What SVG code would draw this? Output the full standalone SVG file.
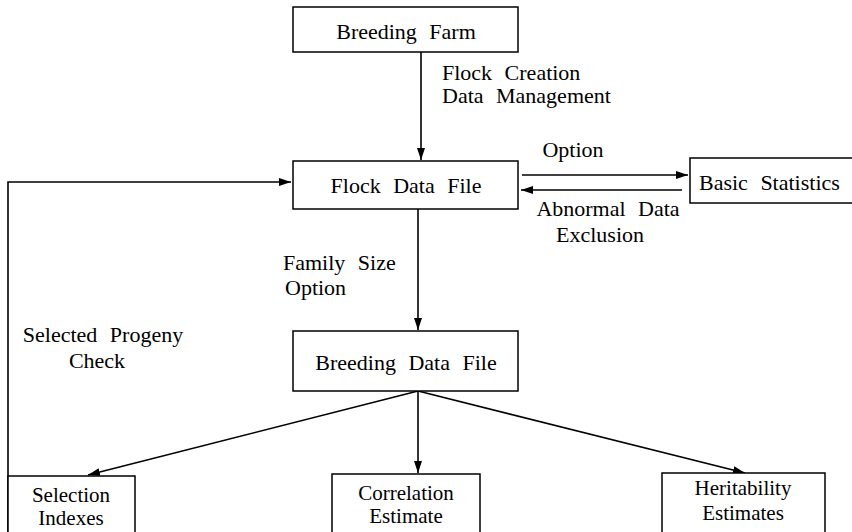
<svg xmlns="http://www.w3.org/2000/svg" width="852" height="532" viewBox="0 0 852 532">
<defs>
<marker id="ah" viewBox="0 0 12 8" refX="12" refY="4" markerWidth="12" markerHeight="8" markerUnits="userSpaceOnUse" orient="auto">
<path d="M0,0 L12,4 L0,8 Z" fill="#000"/>
</marker>
</defs>
<rect width="852" height="532" fill="#fff"/>
<g font-family="'Times New Roman', 'Liberation Serif', serif" font-size="22" fill="#000">
<g id="connectors">
<g fill="none" stroke="#000" stroke-width="1.6">
<line x1="421" y1="52" x2="421" y2="160" marker-end="url(#ah)"/>
<line x1="522" y1="175" x2="688" y2="175" marker-end="url(#ah)"/>
<line x1="682" y1="190" x2="521" y2="190" marker-end="url(#ah)"/>
<line x1="418" y1="209" x2="418" y2="330" marker-end="url(#ah)"/>
<polyline points="8,532 8,182 291,182" marker-end="url(#ah)"/>
<line x1="418" y1="391" x2="88" y2="475" marker-end="url(#ah)"/>
<line x1="418" y1="391" x2="418" y2="473" marker-end="url(#ah)"/>
<line x1="418" y1="391" x2="745" y2="473" marker-end="url(#ah)"/>
</g>
<text x="442" y="80" word-spacing="7">Flock Creation</text>
<text x="442" y="103" word-spacing="7">Data Management</text>
<text x="573" y="157" text-anchor="middle">Option</text>
<text x="608" y="216" word-spacing="7" text-anchor="middle">Abnormal Data</text>
<text x="600" y="242" text-anchor="middle">Exclusion</text>
<text x="283" y="270" word-spacing="7">Family Size</text>
<text x="285" y="295">Option</text>
<text x="103" y="342" word-spacing="7" text-anchor="middle">Selected Progeny</text>
<text x="97" y="368" text-anchor="middle">Check</text>
</g>
<g id="breeding-farm">
<rect x="293" y="7" width="225" height="45" fill="#fff" stroke="#000" stroke-width="1.5"/>
<text x="406" y="39" word-spacing="7" text-anchor="middle">Breeding Farm</text>
</g>
<g id="flock-data-file">
<rect x="293" y="161" width="225" height="48" fill="#fff" stroke="#000" stroke-width="1.5"/>
<text x="406" y="193" word-spacing="7" text-anchor="middle">Flock Data File</text>
</g>
<g id="basic-statistics">
<rect x="690" y="158" width="170" height="45" fill="#fff" stroke="#000" stroke-width="1.5"/>
<text x="699" y="190" word-spacing="7">Basic Statistics</text>
</g>
<g id="breeding-data-file">
<rect x="293" y="331" width="225" height="60" fill="#fff" stroke="#000" stroke-width="1.5"/>
<text x="406" y="370" word-spacing="7" text-anchor="middle">Breeding Data File</text>
</g>
<g id="selection-indexes" font-size="21">
<rect x="8" y="476" width="127" height="62" fill="#fff" stroke="#000" stroke-width="1.5"/>
<text x="71" y="502" text-anchor="middle">Selection</text>
<text x="71" y="525" text-anchor="middle">Indexes</text>
</g>
<g id="correlation-estimate" font-size="21">
<rect x="332" y="474" width="148" height="64" fill="#fff" stroke="#000" stroke-width="1.5"/>
<text x="406" y="500" text-anchor="middle">Correlation</text>
<text x="406" y="523" text-anchor="middle">Estimate</text>
</g>
<g id="heritability-estimates" font-size="21">
<rect x="662" y="473" width="163" height="65" fill="#fff" stroke="#000" stroke-width="1.5"/>
<text x="743" y="495" text-anchor="middle">Heritability</text>
<text x="743" y="520" text-anchor="middle">Estimates</text>
</g>
</g>
</svg>
